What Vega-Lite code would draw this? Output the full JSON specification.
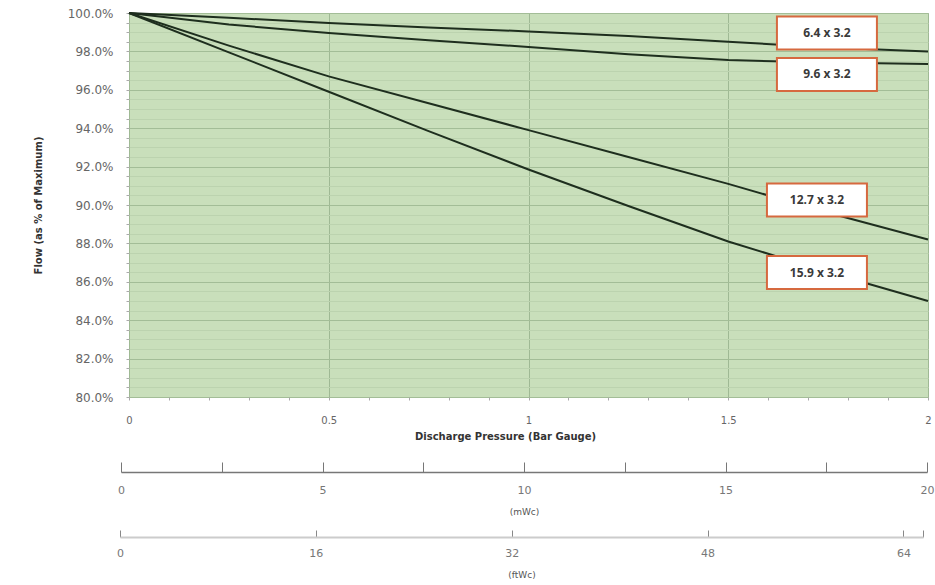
{
  "$schema": "https://vega.github.io/schema/vega-lite/v6.json",
  "width": 799,
  "height": 384,
  "autosize": {"type": "none"},
  "padding": {"left": 129, "top": 13, "right": 7, "bottom": 188},
  "background": "white",
  "config": {
    "view": {"fill": "#c9dfbb", "stroke": "#b5b5b5", "strokeWidth": 1},
    "axis": {"labelFont": "DejaVu Sans", "titleFont": "DejaVu Sans", "labelOverlap": false, "labelFlush": false}
  },
  "resolve": {"scale": {"x": "independent"}},
  "layer": [
    {
      "data": {
        "values": [
          {"series": "6.4 x 3.2", "p": 0, "flow": 100},
          {"series": "6.4 x 3.2", "p": 0.25, "flow": 99.75},
          {"series": "6.4 x 3.2", "p": 0.5, "flow": 99.48},
          {"series": "6.4 x 3.2", "p": 0.75, "flow": 99.25},
          {"series": "6.4 x 3.2", "p": 1, "flow": 99.04},
          {"series": "6.4 x 3.2", "p": 1.25, "flow": 98.8},
          {"series": "6.4 x 3.2", "p": 1.5, "flow": 98.5},
          {"series": "6.4 x 3.2", "p": 1.75, "flow": 98.2},
          {"series": "6.4 x 3.2", "p": 2, "flow": 98.0},
          {"series": "9.6 x 3.2", "p": 0, "flow": 100},
          {"series": "9.6 x 3.2", "p": 0.25, "flow": 99.4},
          {"series": "9.6 x 3.2", "p": 0.5, "flow": 98.96},
          {"series": "9.6 x 3.2", "p": 0.75, "flow": 98.58},
          {"series": "9.6 x 3.2", "p": 1, "flow": 98.23},
          {"series": "9.6 x 3.2", "p": 1.25, "flow": 97.85},
          {"series": "9.6 x 3.2", "p": 1.5, "flow": 97.55},
          {"series": "9.6 x 3.2", "p": 1.75, "flow": 97.42},
          {"series": "9.6 x 3.2", "p": 2, "flow": 97.35},
          {"series": "12.7 x 3.2", "p": 0, "flow": 100},
          {"series": "12.7 x 3.2", "p": 0.25, "flow": 98.3},
          {"series": "12.7 x 3.2", "p": 0.5, "flow": 96.7},
          {"series": "12.7 x 3.2", "p": 0.75, "flow": 95.3},
          {"series": "12.7 x 3.2", "p": 1, "flow": 93.9},
          {"series": "12.7 x 3.2", "p": 1.25, "flow": 92.5},
          {"series": "12.7 x 3.2", "p": 1.5, "flow": 91.1},
          {"series": "12.7 x 3.2", "p": 1.75, "flow": 89.6},
          {"series": "12.7 x 3.2", "p": 2, "flow": 88.2},
          {"series": "15.9 x 3.2", "p": 0, "flow": 100},
          {"series": "15.9 x 3.2", "p": 0.25, "flow": 97.95},
          {"series": "15.9 x 3.2", "p": 0.5, "flow": 95.9},
          {"series": "15.9 x 3.2", "p": 0.75, "flow": 93.85},
          {"series": "15.9 x 3.2", "p": 1, "flow": 91.85},
          {"series": "15.9 x 3.2", "p": 1.25, "flow": 89.95},
          {"series": "15.9 x 3.2", "p": 1.5, "flow": 88.1},
          {"series": "15.9 x 3.2", "p": 1.75, "flow": 86.5},
          {"series": "15.9 x 3.2", "p": 2, "flow": 85.0}
        ]
      },
      "mark": {"type": "line", "color": "#1e2e1e", "strokeWidth": 2},
      "encoding": {
        "x": {
          "field": "p", "type": "quantitative",
          "scale": {"domain": [0, 2], "nice": false},
          "axis": {
            "orient": "bottom", "tickCount": 200, "labelOverlap": false,
            "values": [0, 0.1, 0.2, 0.3, 0.4, 0.5, 0.6, 0.7, 0.8, 0.9, 1, 1.1, 1.2, 1.3, 1.4, 1.5, 1.6, 1.7, 1.8, 1.9, 2],
            "labelExpr": "datum.value % 0.5 === 0 ? format(datum.value, '~g') : ''",
            "domain": false,
            "ticks": true, "tickSize": 3, "tickColor": "#aaaaaa",
            "grid": true,
            "gridColor": "#9fb994",
            "gridOpacity": {"condition": {"test": "datum.value % 0.5 === 0", "value": 1}, "value": 0},
            "labelColor": "#666666", "labelFontSize": 10, "labelPadding": 15,
            "title": "Discharge Pressure (Bar Gauge)",
            "titleFontSize": 10, "titleFontWeight": "bold", "titleColor": "#333333",
            "titlePadding": 6, "titleX": 376
          }
        },
        "y": {
          "field": "flow", "type": "quantitative",
          "scale": {"domain": [80, 100], "nice": false, "zero": false},
          "axis": {
            "tickCount": 200, "labelOverlap": false,
            "values": [80, 80.5, 81, 81.5, 82, 82.5, 83, 83.5, 84, 84.5, 85, 85.5, 86, 86.5, 87, 87.5, 88, 88.5, 89, 89.5, 90, 90.5, 91, 91.5, 92, 92.5, 93, 93.5, 94, 94.5, 95, 95.5, 96, 96.5, 97, 97.5, 98, 98.5, 99, 99.5, 100],
            "labelExpr": "datum.value % 2 === 0 ? format(datum.value, '.1f') + '%' : ''",
            "domain": false,
            "ticks": true, "tickSize": 3, "tickColor": "#aaaaaa",
            "grid": true,
            "gridColor": {"condition": {"test": "datum.value % 2 === 0", "value": "#a3bd97"}, "value": "#bcd3af"},
            "labelColor": "#666666", "labelFontSize": 12, "labelPadding": 13,
            "title": "Flow (as % of Maximum)",
            "titleFontSize": 10, "titleFontWeight": "bold", "titleColor": "#333333",
            "titlePadding": 24
          }
        },
        "detail": {"field": "series"}
      }
    },
    {
      "data": {
        "values": [
          {"label": "6.4 x 3.2", "p": 1.747, "flow": 98.96},
          {"label": "9.6 x 3.2", "p": 1.747, "flow": 96.8},
          {"label": "12.7 x 3.2", "p": 1.722, "flow": 90.26},
          {"label": "15.9 x 3.2", "p": 1.722, "flow": 86.48}
        ]
      },
      "encoding": {
        "x": {"field": "p", "type": "quantitative", "scale": {"domain": [0, 2], "nice": false}, "axis": null},
        "y": {"field": "flow", "type": "quantitative"}
      },
      "layer": [
        {"mark": {"type": "rect", "width": 100, "height": 33, "fill": "white", "stroke": "#d6693f", "strokeWidth": 2}},
        {"mark": {"type": "text", "font": "Open Sans", "fontWeight": "bold", "fontSize": 12, "color": "#3a3a3a"}, "encoding": {"text": {"field": "label"}}}
      ]
    },
    {
      "data": {"values": [{"m": 0}, {"m": 20}]},
      "mark": {"type": "point", "opacity": 0},
      "encoding": {
        "x": {
          "field": "m", "type": "quantitative",
          "scale": {"domain": [0, 20], "range": [-8, 798], "nice": false},
          "axis": {
            "orient": "bottom", "offset": 75, "tickCount": 200, "labelOverlap": false,
            "values": [0, 2.5, 5, 7.5, 10, 12.5, 15, 17.5, 20],
            "labelExpr": "datum.value % 5 === 0 ? format(datum.value, 'd') : ''",
            "grid": false,
            "domainColor": "#777777", "domainWidth": 1.5,
            "tickColor": "#777777", "tickSize": -10, "tickWidth": 1,
            "labelColor": "#777777", "labelFontSize": 11, "labelPadding": 22,
            "title": "(mWc)", "titleFontSize": 9, "titleFontWeight": "normal", "titleColor": "#555555",
            "titlePadding": 12
          }
        }
      }
    },
    {
      "data": {"values": [{"f": 0}, {"f": 65.6}]},
      "mark": {"type": "point", "opacity": 0},
      "encoding": {
        "x": {
          "field": "f", "type": "quantitative",
          "scale": {"domain": [0, 65.6], "range": [-9, 794], "nice": false},
          "axis": {
            "orient": "bottom", "offset": 140, "tickCount": 200, "labelOverlap": false,
            "values": [0, 16, 32, 48, 64, 65.6],
            "labelExpr": "datum.value === 65.6 ? '' : format(datum.value, 'd')",
            "grid": false,
            "domainColor": "#cccccc", "domainWidth": 2,
            "tickColor": "#888888", "tickSize": -7, "tickWidth": 1,
            "labelColor": "#777777", "labelFontSize": 11, "labelPadding": 17,
            "title": "(ftWc)", "titleFontSize": 9, "titleFontWeight": "normal", "titleColor": "#555555",
            "titlePadding": 12
          }
        }
      }
    }
  ]
}
